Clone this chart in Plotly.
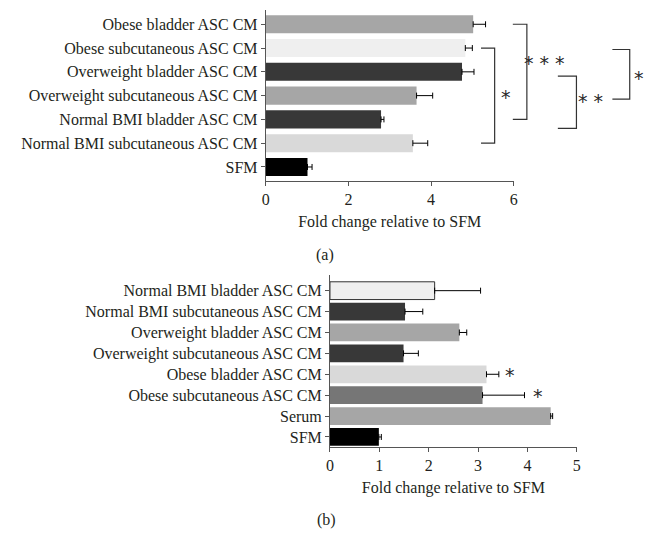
import plotly.graph_objects as go

# Panel (a): categories top to bottom
cats_a = ["Obese bladder ASC CM", "Obese subcutaneous ASC CM", "Overweight bladder ASC CM",
          "Overweight subcutaneous ASC CM", "Normal BMI bladder ASC CM",
          "Normal BMI subcutaneous ASC CM", "SFM"]
vals_a = [5.02, 4.83, 4.75, 3.65, 2.79, 3.56, 1.01]
err_a = [0.30, 0.17, 0.29, 0.39, 0.07, 0.36, 0.11]
colors_a = ["#a6a6a6", "#efefef", "#383838", "#a6a6a6", "#383838", "#d9d9d9", "#000000"]
ticks_a = [0, 2, 4, 6]

# Panel (b): categories top to bottom
cats_b = ["Normal BMI bladder ASC CM", "Normal BMI subcutaneous ASC CM", "Overweight bladder ASC CM",
          "Overweight subcutaneous ASC CM", "Obese bladder ASC CM", "Obese subcutaneous ASC CM",
          "Serum", "SFM"]
vals_b = [2.12, 1.52, 2.62, 1.49, 3.17, 3.09, 4.47, 0.99]
err_b = [0.93, 0.36, 0.15, 0.30, 0.25, 0.85, 0.04, 0.05]
colors_b = ["#efefef", "#383838", "#a6a6a6", "#383838", "#d9d9d9", "#767676", "#a6a6a6", "#000000"]
ticks_b = [0, 1, 2, 3, 4, 5]

# significance brackets for (a): (top index, bottom index, x left, x right, label, label x, label index)
brackets_a = [
    (1, 5, 5.21, 5.54, "*", 5.81, 3.0),
    (0, 4, 5.98, 6.32, "* * *", 6.74, 1.58),
    (2.18, 4.38, 7.07, 7.52, "* *", 7.85, 3.19),
    (1.06, 3.15, 8.39, 8.81, "*", 9.04, 2.21),
]
stars_b = [(3.65, 4, "*"), (4.21, 5, "*")]

# page has an 8px body margin, so the figure is drawn 8px in from the window edge
OFF = 8
W, H = 656 - 2 * OFF, 553 - 2 * OFF
FONT = "Liberation Serif"
STAR_FONT = dict(family="DejaVu Sans", size=19, color="#2a2a2a")
STAR_SHIFT = -1
TXT = "#231f20"
AX = "#555555"
FS = 16

# subplot geometry (window pixels)
xa0, xa1, ya_top, ya_bot = 265, 516, 10, 181
xb0, xb1, yb_top, yb_bot = 330, 580, 275, 447
ra = [6.59, -0.6]
rb = [7.48, -0.75]


def px(p):
    return (p - OFF) / W


def py(p):
    return 1 - (p - OFF) / H


fig = go.Figure()

fig.add_trace(go.Bar(
    y=cats_a, x=vals_a, orientation="h", width=0.76,
    marker=dict(color=colors_a, line=dict(width=0)),
    error_x=dict(type="data", array=err_a, arrayminus=[0] * len(err_a), symmetric=False,
                 color="#000", thickness=1, width=3),
    xaxis="x", yaxis="y", showlegend=False,
))
fig.add_trace(go.Bar(
    y=cats_b, x=vals_b, orientation="h", width=0.85,
    marker=dict(color=colors_b,
                line=dict(color=["#333"] + ["rgba(0,0,0,0)"] * (len(cats_b) - 1), width=1)),
    error_x=dict(type="data", array=err_b, arrayminus=[0] * len(err_b), symmetric=False,
                 color="#000", thickness=1, width=3),
    xaxis="x2", yaxis="y2", showlegend=False,
))

axis_common = dict(showline=True, linecolor=AX, linewidth=1, ticks="outside", ticklen=4,
                   tickcolor=AX, showgrid=False, zeroline=False,
                   tickfont=dict(family=FONT, size=FS, color=TXT))
title_font = dict(family=FONT, size=FS, color=TXT)

fig.update_layout(
    width=W, height=H, margin=dict(l=0, r=0, t=0, b=0),
    paper_bgcolor="white", plot_bgcolor="white",
    font=dict(family=FONT, size=FS, color=TXT),
    xaxis=dict(domain=[px(xa0), px(xa1)], range=[0, 6], tickvals=ticks_a, anchor="y",
               title=dict(text="Fold change relative to SFM", font=title_font, standoff=8),
               **axis_common),
    yaxis=dict(domain=[py(ya_bot), py(ya_top)], range=ra, anchor="x", type="category",
               categoryorder="array", categoryarray=cats_a, **axis_common),
    xaxis2=dict(domain=[px(xb0), px(xb1)], range=[0, 5], tickvals=ticks_b, anchor="y2",
                title=dict(text="Fold change relative to SFM", font=title_font, standoff=8),
                **axis_common),
    yaxis2=dict(domain=[py(yb_bot), py(yb_top)], range=rb, anchor="x2", type="category",
                categoryorder="array", categoryarray=cats_b, **axis_common),
)


def a_x(v):
    return px(xa0 + (xa1 - xa0) * v / 6)


def a_y(idx):
    return py(ya_top + (ya_bot - ya_top) * (idx - ra[1]) / (ra[0] - ra[1]))


for top, bot, xl, xr, label, lx, li in brackets_a:
    pts = [(a_x(xl), a_y(top)), (a_x(xr), a_y(top)), (a_x(xr), a_y(bot)), (a_x(xl), a_y(bot))]
    path = "M " + " L ".join(f"{x},{y}" for x, y in pts)
    fig.add_shape(type="path", path=path, xref="paper", yref="paper",
                  line=dict(color="#333", width=1.2))
    fig.add_annotation(x=a_x(lx), y=a_y(li), xref="paper", yref="paper", text=label,
                       xanchor="center", yanchor="middle",
                       showarrow=False, font=STAR_FONT, yshift=STAR_SHIFT)

for sx, si, label in stars_b:
    fig.add_annotation(x=sx, y=cats_b[si], xref="x2", yref="y2", text=label,
                       xanchor="center", yanchor="middle",
                       showarrow=False, font=STAR_FONT, yshift=STAR_SHIFT)

fig.add_annotation(x=px(325), y=py(255), xref="paper", yref="paper", text="(a)",
                   xanchor="center", yanchor="middle", showarrow=False, font=title_font)
fig.add_annotation(x=px(326), y=py(520), xref="paper", yref="paper", text="(b)",
                   xanchor="center", yanchor="middle", showarrow=False, font=title_font)

fig.write_html("out.html")
